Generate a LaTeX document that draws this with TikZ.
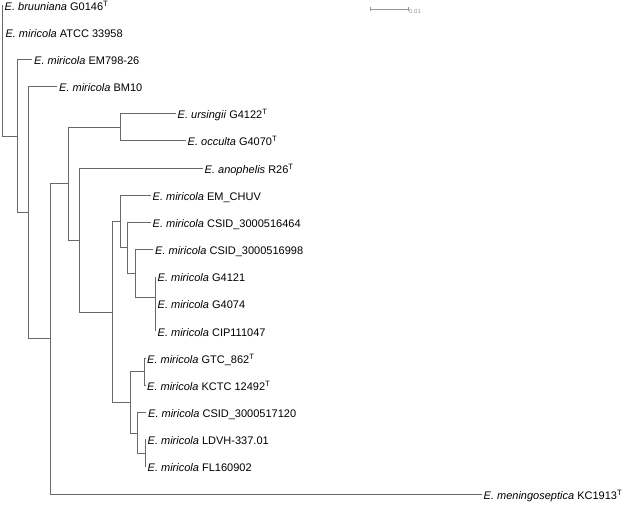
\documentclass[tikz,border=0pt]{standalone}
\usepackage{fontspec}
\setmainfont{Liberation Sans}
\definecolor{branchgray}{RGB}{105,105,105}
\definecolor{bargray}{RGB}{150,150,150}
\begin{document}
\begin{tikzpicture}[x=1pt,y=-1pt]

\tikzstyle{leaf} = [anchor=west,inner xsep=2pt,inner ysep=0pt,text height=10pt,text depth=0pt,font=\fontsize{11}{13}\selectfont]
\tikzstyle{branch} = [draw=branchgray,line width=0.9pt]

\useasboundingbox (0,0) rectangle (623,504);

% scale bar
\coordinate (s1) at (370,9); \coordinate (s2) at (408,9);
\draw [draw=bargray,line width=0.7pt] (s1) -- (s2) (s1) ++(0,-2) -- ++(0,4) (s2) ++(0,-2) -- ++(0,4);
\node [anchor=west,inner sep=1pt,text=bargray,font=\fontsize{6}{7}\selectfont] (scale) at (408,11) {0.01};

% leaves
\node [leaf] (bruuniana) at (2.5,5.5) {\textit{E. bruuniana} G0146\textsuperscript{T}};
\node [leaf] (atcc) at (3.3,32.17) {\textit{E. miricola} ATCC 33958};
\node [leaf] (em798) at (32,59.34) {\textit{E. miricola} EM798-26};
\node [leaf] (bm10) at (57,86.51) {\textit{E. miricola} BM10};
\node [leaf] (ursingii) at (175.5,113.68) {\textit{E. ursingii} G4122\textsuperscript{T}};
\node [leaf] (occulta) at (185.5,140.85) {\textit{E. occulta} G4070\textsuperscript{T}};
\node [leaf] (anophelis) at (202.5,168.02) {\textit{E. anophelis} R26\textsuperscript{T}};
\node [leaf] (emchuv) at (150.5,195.19) {\textit{E. miricola} EM\_CHUV};
\node [leaf] (csid464) at (150.5,222.36) {\textit{E. miricola} CSID\_3000516464};
\node [leaf] (csid998) at (153,249.53) {\textit{E. miricola} CSID\_3000516998};
\node [leaf] (g4121) at (155.5,276.7) {\textit{E. miricola} G4121};
\node [leaf] (g4074) at (155.5,303.87) {\textit{E. miricola} G4074};
\node [leaf] (cip) at (155.5,331.04) {\textit{E. miricola} CIP111047};
\node [leaf] (gtc) at (145,358.21) {\textit{E. miricola} GTC\_862\textsuperscript{T}};
\node [leaf] (kctc) at (145,385.38) {\textit{E. miricola} KCTC 12492\textsuperscript{T}};
\node [leaf] (csid120) at (146,412.55) {\textit{E. miricola} CSID\_3000517120};
\node [leaf] (ldvh) at (145.5,439.72) {\textit{E. miricola} LDVH-337.01};
\node [leaf] (fl) at (145.5,466.89) {\textit{E. miricola} FL160902};
\node [leaf] (meningo) at (481.5,494.06) {\textit{E. meningoseptica} KC1913\textsuperscript{T}};

% internal nodes
\coordinate (v1) at (2,70);
\coordinate (v2) at (17.5,136);
\coordinate (v3) at (28,212.7);
\coordinate (v4) at (50,338.8);
\coordinate (v5) at (68,183.7);
\coordinate (v6) at (120,127.3);
\coordinate (v7) at (79,240);
\coordinate (v8) at (112,312);
\coordinate (v9) at (120,221.5);
\coordinate (v10) at (127,247.9);
\coordinate (v11) at (135,273.3);
\coordinate (v12) at (155.5,297.1);
\coordinate (v13) at (155.5,317.45);
\coordinate (v14) at (130,402.4);
\coordinate (v15) at (144.5,371.8);
\coordinate (v16) at (137,433);
\coordinate (v17) at (145,453.3);

\draw [branch] (v1) |- (bruuniana.west) (v1) |- (atcc.west) (v1) |- (v2);
\draw [branch] (v2) |- (em798.west) (v2) |- (v3);
\draw [branch] (v3) |- (bm10.west) (v3) |- (v4);
\draw [branch] (v4) |- (v5) (v4) |- (meningo.west);
\draw [branch] (v5) |- (v6) (v5) |- (v7);
\draw [branch] (v6) |- (ursingii.west) (v6) |- (occulta.west);
\draw [branch] (v7) |- (anophelis.west) (v7) |- (v8);
\draw [branch] (v8) |- (v9) (v8) |- (v14);
\draw [branch] (v9) |- (emchuv.west) (v9) |- (v10);
\draw [branch] (v10) |- (csid464.west) (v10) |- (v11);
\draw [branch] (v11) |- (csid998.west) (v11) |- (v12);
\draw [branch] (v12) |- (g4121.west) (v12) |- (v13);
\draw [branch] (v13) |- (g4074.west) (v13) |- (cip.west);
\draw [branch] (v14) |- (v15) (v14) |- (v16);
\draw [branch] (v15) |- (gtc.west) (v15) |- (kctc.west);
\draw [branch] (v16) |- (csid120.west) (v16) |- (v17);
\draw [branch] (v17) |- (ldvh.west) (v17) |- (fl.west);

\end{tikzpicture}
\end{document}
